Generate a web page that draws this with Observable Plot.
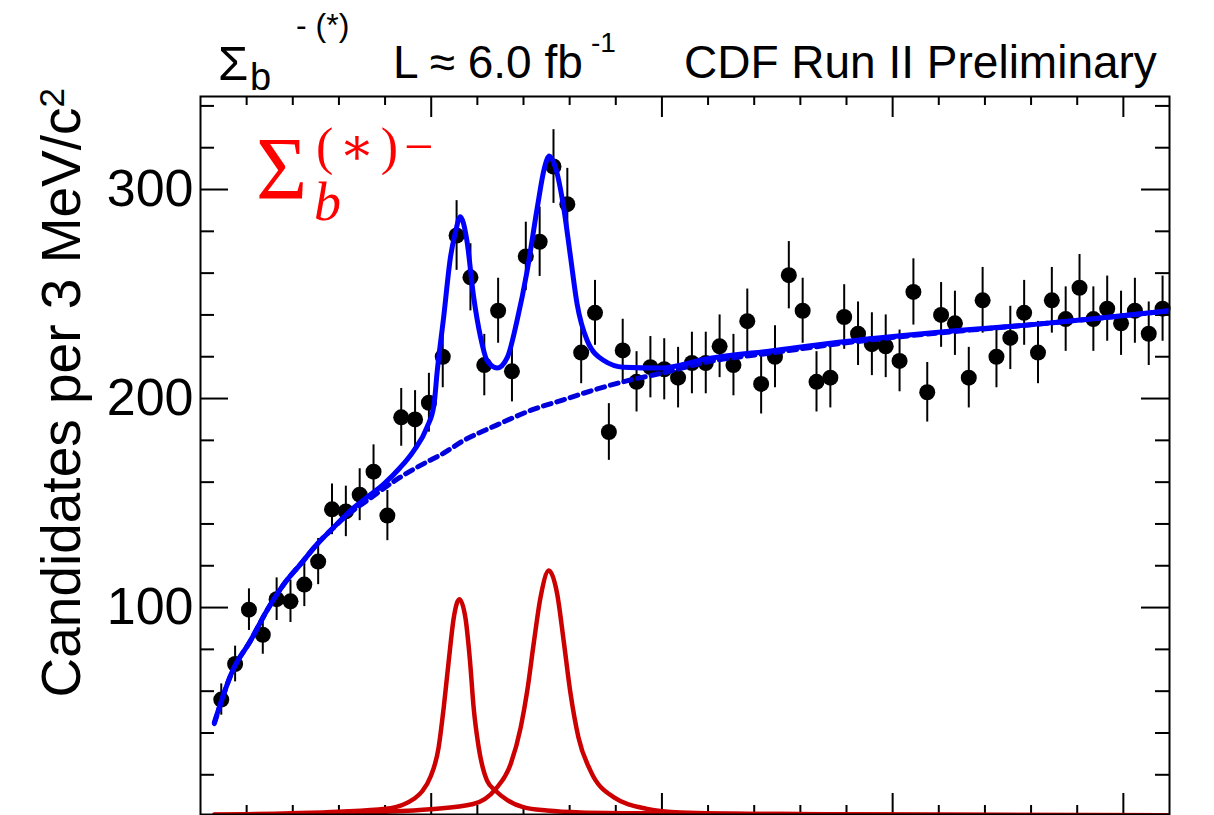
<!DOCTYPE html>
<html>
<head>
<meta charset="utf-8">
<script src="https://cdn.jsdelivr.net/npm/d3@7"></script>
<script src="https://cdn.jsdelivr.net/npm/@observablehq/plot@0.6"></script>
<style>
html,body{margin:0;padding:0;background:#fff;}
#chart{position:relative;width:1214px;height:815px;overflow:hidden;}
</style>
</head>
<body>
<div id="chart"></div>
<script>
// ---- data (Q value in MeV/c^2, 3 MeV bins) ----
const binCenters = [4.5,7.5,10.5,13.5,16.5,19.5,22.5,25.5,28.5,31.5,34.5,37.5,40.5,43.5,46.5,49.5,52.5,55.5,58.5,61.5,64.5,67.5,70.5,73.5,76.5,79.5,82.5,85.5,88.5,91.5,94.5,97.5,100.5,103.5,106.5,109.5,112.5,115.5,118.5,121.5,124.5,127.5,130.5,133.5,136.5,139.5,142.5,145.5,148.5,151.5,154.5,157.5,160.5,163.5,166.5,169.5,172.5,175.5,178.5,181.5,184.5,187.5,190.5,193.5,196.5,199.5,202.5,205.5,208.5];
const counts = [56,73,99,87,104,103,111,122,147,146,154,165,144,191,190,198,220,278,258,216,242,213,268,275,311,293,222,241,184,223,208,215,214,210,217,217,225,216,237,207,220,259,242,208,210,239,231,226,225,218,251,203,240,236,210,247,220,229,241,222,247,238,253,238,243,236,242,231,243];

// total fit (solid blue)
const totalQ = [3,7,10.8,14.4,18.1,21.7,25.3,28.9,32.5,36.1,39.7,43.3,46.2,49.1,50.6,51.3,52.7,54.2,55.2,56.3,57.7,59.2,60.7,62.1,64.3,66.5,68.6,70.8,73.0,74.5,75.6,77.0,78.7,80.2,81.6,83.8,87.4,91.7,99.7,109.8,124.3,138.7,151.7,164,178.4,192.9,210];
const totalV = [45,70,84,98.6,111.3,120.8,130.4,138.4,146.4,152.8,159.1,167,175,186.3,197,213,239,268,279,287,276,248.5,229.3,218.2,214.6,219.7,237.3,261.2,291.5,310,316,310,291.5,267.6,245.4,227.8,218.2,215,214.6,219,223,227,230,232.5,235,238,242];

// background (dashed blue)
const bgQ = [3,7,10.8,14.4,18.1,21.7,25.3,28.9,32.5,36.1,39.7,43.3,49.8,52,57.1,64.3,71.5,78.8,86,93.2,99.7,109.8,124.3,138.7,151.7,164,178.4,192.9,210];
const bgV = [44.5,70,84,98.6,111.3,120.8,130.4,138.4,145.5,151.2,157,162.4,170.5,173,180,187.4,194.3,199.5,204.6,208.9,212,217.5,222,226.3,229.6,232.2,235,238,242];

// signal Sigma_b (red, first peak)
const sig1Q = [3,20,30,40.1,44,46.2,48,49.8,51.6,52.7,53.8,54.9,56.1,57.4,58.4,59.2,60.3,62.1,63.9,66.5,70.1,75.1,82.4,100,125.7,160,210];
const sig1V = [1.0,1.6,2.3,3.7,5.8,8.4,12,18.8,33,52,74.6,95.3,104,95.3,74.6,52,33,17.2,12.5,7.9,4.4,2.9,2.0,1.5,1.2,0.9,0.6];

// signal Sigma_b* (red, second peak)
const sig2Q = [3,20,39,49.8,59.1,63.9,67.2,69.4,70.8,72.2,73.7,75.5,77.3,78.7,80.1,81.9,84.5,89.6,96.8,104,125.7,160,210];
const sig2V = [0.8,1.2,2.2,3.5,6,13,25,42.7,60,82.6,105,117.7,106.5,84.2,60.3,38,22,9.2,3.7,2.0,1.2,0.9,0.6];

// axis ticks
const yMajorTicks = [100,200,300];
const yTickLabels = ["100","200","300"];
const yMinorTicks = [20,40,60,80,120,140,160,180,220,240,260,280,320,340];
const xMajorTicks = [50,100,150,200];
const xMinorTicks = [10,20,30,40,60,70,80,90,110,120,130,140,160,170,180,190];

// ---- build tables ----
const points = binCenters.map((q,i)=>({q, n: counts[i], lo: counts[i]-Math.sqrt(counts[i]), hi: counts[i]+Math.sqrt(counts[i])}));
const total = totalQ.map((q,i)=>({q, v: totalV[i]}));
const bg = bgQ.map((q,i)=>({q, v: bgV[i]}));
const sig1 = sig1Q.map((q,i)=>({q, v: sig1V[i]}));
const sig2 = sig2Q.map((q,i)=>({q, v: sig2V[i]}));
const yLab = yMajorTicks.map((v,i)=>({v, label: yTickLabels[i]}));

const W=1214, H=815, ML=200, MR=45, MT=96, MB=1;
const FW = W-ML-MR, FH = H-MT-MB;
const SANS = "'Liberation Sans', Arial, Helvetica, sans-serif";
const SERIF = "'Liberation Serif', 'Times New Roman', 'DejaVu Serif', serif";
const tk = {stroke:"black", strokeWidth:2};

const plot = Plot.plot({
  width: W, height: H,
  marginLeft: ML, marginRight: MR, marginTop: MT, marginBottom: MB,
  x: {domain:[0,210], axis:null},
  y: {domain:[1,344.5], axis:null},
  style: {background:"white", fontFamily: SANS, overflow:"visible"},
  marks: [
    Plot.tickY(yMinorTicks, {...tk, insetRight: FW-14}),
    Plot.tickY(yMajorTicks, {...tk, insetRight: FW-28}),
    Plot.tickY(yMinorTicks, {...tk, insetLeft: FW-14}),
    Plot.tickY(yMajorTicks, {...tk, insetLeft: FW-28}),
    Plot.tickX(xMinorTicks, {...tk, insetBottom: FH-9}),
    Plot.tickX(xMajorTicks, {...tk, insetBottom: FH-21}),
    Plot.tickX(xMinorTicks, {...tk, insetTop: FH-9}),
    Plot.tickX(xMajorTicks, {...tk, insetTop: FH-21}),
    Plot.text(yLab, {y:"v", text:"label", frameAnchor:"left", textAnchor:"end", dx:-7, fontSize:52, fill:"black"}),
    Plot.ruleX(points, {x:"q", y1:"lo", y2:"hi", stroke:"black", strokeWidth:2, clip:true}),
    Plot.dot(points, {x:"q", y:"n", r:8, fill:"black", stroke:"none"}),
    Plot.line(sig1, {x:"q", y:"v", stroke:"#cc0000", strokeWidth:4.5, curve:"monotone-x", clip:true}),
    Plot.line(sig2, {x:"q", y:"v", stroke:"#cc0000", strokeWidth:4.5, curve:"monotone-x", clip:true}),
    Plot.line(bg, {x:"q", y:"v", stroke:"#0000dd", strokeWidth:5, strokeDasharray:"8,6", curve:"monotone-x", clip:true}),
    Plot.line(total, {x:"q", y:"v", stroke:"#0000ff", strokeWidth:5, curve:"monotone-x", clip:true}),
    Plot.frame({stroke:"black", strokeWidth:2})
  ]
});
document.getElementById("chart").appendChild(plot);

// ---- rich text annotations ----
const svg = d3.select(plot);
const ann = svg.append("g").attr("class","annotations").attr("text-anchor","start");
function t(x, y, s, fs, opts={}) {
  const e = ann.append("text").attr("x", x).attr("y", y)
    .attr("text-anchor","start")
    .attr("font-size", fs).attr("font-family", opts.family || SANS)
    .attr("fill", opts.fill || "black").style("white-space","pre")
    .text(s);
  if (opts.italic) e.attr("font-style","italic");
  if (opts.ls) e.attr("letter-spacing", opts.ls);
  return e;
}
// header
t(218, 80, "Σ", 49);
t(250, 90, "b", 38);
t(296, 36, "- (*)", 32);
t(393, 78, "L ≈ 6.0 fb", 46);
t(591, 52, "-1", 28);
t(684, 78, "CDF Run II Preliminary", 46);
// red label
t(256, 198, "Σ", 88, {family: SERIF, fill:"#ff0000"});
t(314, 220, "b", 54, {family: SERIF, fill:"#ff0000", italic:true});
t(316, 164, "(∗)−", 52, {family: SERIF, fill:"#ff0000", ls: 6});
// y title
const yt = ann.append("text")
  .attr("transform","translate(80,88) rotate(-90)")
  .attr("text-anchor","end").attr("font-size",55).attr("font-family",SANS).attr("fill","black");
yt.append("tspan").text("Candidates per 3 MeV/c");
yt.append("tspan").attr("dy","-0.45em").attr("font-size",35).text("2");
</script>
</body>
</html>
